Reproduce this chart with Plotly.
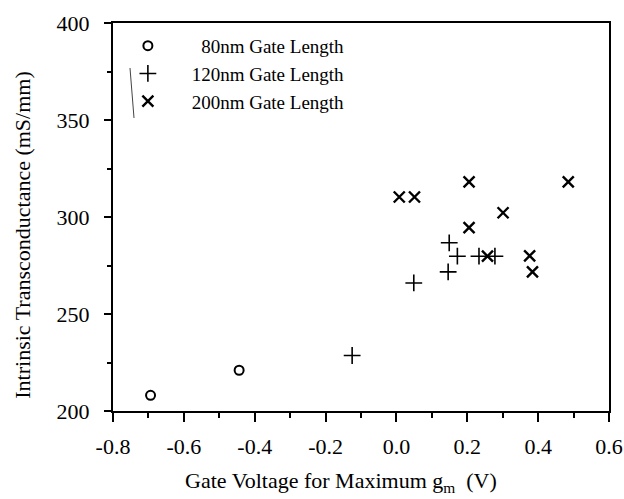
import plotly.graph_objects as go

# Gate voltage at peak gm (V) and intrinsic transconductance (mS/mm)
vg_80nm = [-0.694, -0.444]
gm_80nm = [208.1, 221.0]

vg_120nm = [-0.125, 0.049, 0.146, 0.149, 0.172, 0.233, 0.278]
gm_120nm = [228.6, 266.0, 271.7, 286.7, 279.8, 279.8, 279.8]

vg_200nm = [0.008, 0.051, 0.205, 0.205, 0.301, 0.257, 0.376, 0.384, 0.485]
gm_200nm = [310.3, 310.3, 318.1, 294.5, 302.2, 279.8, 280.0, 271.7, 318.1]

x_ticks = [-0.8, -0.6, -0.4, -0.2, 0.0, 0.2, 0.4, 0.6]
x_tick_text = ["-0.8", "-0.6", "-0.4", "-0.2", "0.0", "0.2", "0.4", "0.6"]
y_ticks = [200, 250, 300, 350, 400]

FONT = "Liberation Serif, Times New Roman, serif"
INK = "#000000"
PAD = "\u00a0" * 5

fig = go.Figure()
fig.add_trace(go.Scatter(
    x=vg_80nm, y=gm_80nm, mode="markers", name=PAD + "\u00a0\u00a0" + "80nm Gate Length",
    legendgroup="a",
    marker=dict(symbol="circle-open", size=9, color=INK, line=dict(width=2, color=INK)),
))
fig.add_trace(go.Scatter(
    x=vg_120nm, y=gm_120nm, mode="markers", name=PAD + "120nm Gate Length",
    legendgroup="b",
    marker=dict(symbol="cross-thin", size=12, color=INK, line=dict(width=1.6, color=INK)),
))
fig.add_trace(go.Scatter(
    x=vg_200nm, y=gm_200nm, mode="markers", name=PAD + "200nm Gate Length",
    legendgroup="c",
    marker=dict(symbol="x-thin", size=11, color=INK, line=dict(width=2.4, color=INK)),
))

axis_common = dict(
    showline=True, linecolor=INK, linewidth=2, mirror=True,
    ticks="outside", tickcolor=INK, tickwidth=2,
    showgrid=False, zeroline=False, automargin=False,
    tickfont=dict(family=FONT, size=22, color=INK),
)

fig.update_layout(
    width=624, height=499,
    margin=dict(l=113, r=15, t=23, b=88),
    paper_bgcolor="white", plot_bgcolor="white",
    font=dict(family=FONT, size=22, color=INK),
    xaxis=dict(
        range=[-0.8, 0.6], tickvals=x_ticks, ticktext=x_tick_text,
        ticklen=9, ticklabelstandoff=6,
        minor=dict(dtick=0.1, ticks="outside", ticklen=5, tickcolor=INK, tickwidth=1.5),
        **axis_common,
    ),
    yaxis=dict(
        range=[200, 400], tickvals=y_ticks,
        ticklen=7, ticklabelstandoff=10,
        minor=dict(dtick=25, ticks="outside", ticklen=4, tickcolor=INK, tickwidth=1.5),
        **axis_common,
    ),
    legend=dict(
        x=0.030, y=0.99, xanchor="left", yanchor="top",
        bgcolor="rgba(0,0,0,0)", font=dict(family=FONT, size=19, color=INK),
        traceorder="grouped", tracegroupgap=0, itemwidth=30,
    ),
    showlegend=True,
)

# axis titles placed as paper-anchored annotations
fig.add_annotation(
    text="Gate Voltage for Maximum g<sub>m</sub>  (V)",
    xref="paper", yref="paper", x=0.46, y=-0.183,
    xanchor="center", yanchor="middle", showarrow=False,
    font=dict(family=FONT, size=22, color=INK),
)
fig.add_annotation(
    text="Intrinsic Transconductance (mS/mm)",
    xref="paper", yref="paper", x=-0.184, y=0.4536, textangle=-90,
    xanchor="center", yanchor="middle", showarrow=False,
    font=dict(family=FONT, size=22, color=INK),
)

# thin stray stroke beside the legend symbols
fig.add_shape(type="line", xref="paper", yref="paper",
              x0=(130 - 113) / 496, y0=(411 - 68) / 388,
              x1=(134 - 113) / 496, y1=(411 - 118) / 388,
              line=dict(color="#444444", width=1))

fig.write_html("out.html")
